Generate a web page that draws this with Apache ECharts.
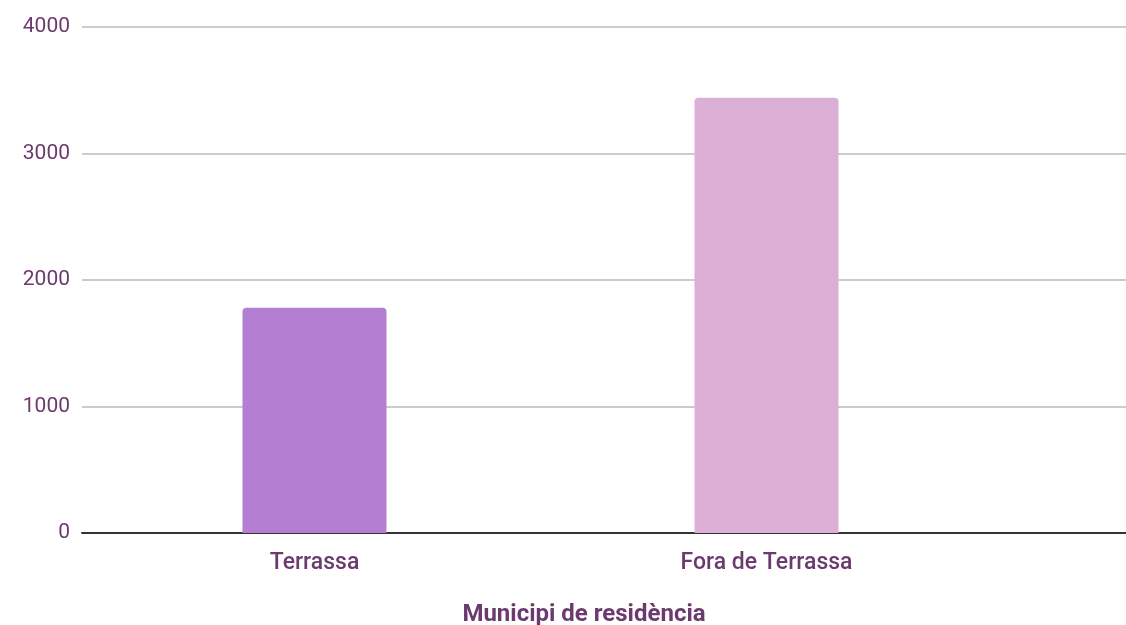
<!DOCTYPE html>
<html>
<head>
<meta charset="utf-8">
<script src="https://cdn.jsdelivr.net/npm/echarts@6/dist/echarts.min.js"></script>
<style>
  html, body { margin: 0; padding: 0; background: #fff; }
  #chart { width: 1126px; height: 625px; }
</style>
</head>
<body>
<div id="chart"></div>
<script>
  const categories = ['Terrassa', 'Fora de Terrassa'];
  const values = [1780, 3440];
  const barColors = ['#b47fd2', '#dcb0d6'];
  const yTicks = [0, 1000, 2000, 3000, 4000];
  const axisTitle = 'Municipi de residència';

  const textColor = '#6b3a6e';
  const chart = echarts.init(document.getElementById('chart'));

  const option = {
    animation: false,
    textStyle: { fontFamily: 'Roboto' },
    grid: [
      // full-width grid: gridlines + y labels
      { left: 82, right: 0, top: 27, bottom: 92 },
      // bar grid
      { left: 88.5, right: 133.5, top: 27, bottom: 92 }
    ],
    xAxis: [
      {
        gridIndex: 0, type: 'value', min: 0, max: 1, show: true,
        axisLine: { show: true, onZero: false, lineStyle: { color: '#333', width: 2 } },
        axisTick: { show: false }, axisLabel: { show: false }, splitLine: { show: false }
      },
      {
        gridIndex: 1, type: 'category', data: categories,
        axisLine: { show: false }, axisTick: { show: false },
        axisLabel: { color: textColor, fontSize: 23, fontWeight: 500, margin: 19 }
      }
    ],
    yAxis: [
      {
        gridIndex: 0, type: 'value', min: yTicks[0], max: yTicks[yTicks.length - 1], interval: 1000,
        axisLine: { show: false }, axisTick: { show: false },
        axisLabel: { color: textColor, fontSize: 21, margin: 12, formatter: v => String(v) },
        splitLine: { lineStyle: { color: '#cccccc', width: 2 } }
      },
      {
        gridIndex: 1, type: 'value', min: yTicks[0], max: yTicks[yTicks.length - 1], show: false
      }
    ],
    series: [{
      type: 'bar',
      xAxisIndex: 1, yAxisIndex: 1,
      barWidth: 144,
      z: 1,
      data: values.map((v, i) => ({
        value: v,
        itemStyle: { color: barColors[i], borderRadius: [4, 4, 0, 0] }
      }))
    }],
    graphic: [{
      type: 'text', x: 584, y: 615,
      style: {
        text: axisTitle, fill: textColor, font: 'bold 24px Roboto',
        align: 'center', verticalAlign: 'middle'
      }
    }]
  };
  chart.setOption(option);
  window.onresize = function () { chart.resize(); };
</script>
</body>
</html>
